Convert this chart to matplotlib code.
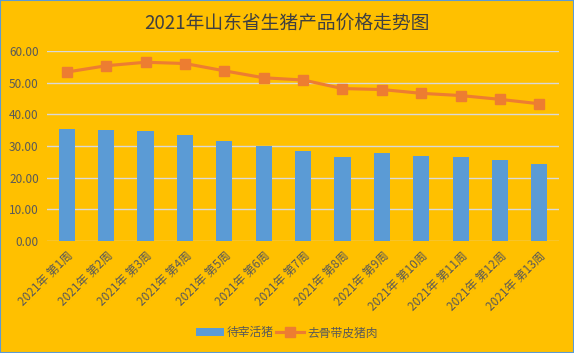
import numpy as np
import matplotlib
matplotlib.use('Agg')
from matplotlib import pyplot as plt
from matplotlib.patches import Rectangle

plt.rcParams['font.family'] = ['Noto Sans CJK SC', 'DejaVu Sans']

weeks = ['2021年 第%d周' % i for i in range(1, 14)]
live_pig = [35.4, 35.0, 34.7, 33.5, 31.6, 30.0, 28.4, 26.5, 27.8, 26.8, 26.5, 25.6, 24.3]
pork = [53.3, 55.3, 56.4, 56.0, 53.7, 51.5, 50.8, 48.1, 47.8, 46.6, 45.9, 44.7, 43.3]

bg = '#FFC000'
txt = '#595959'

fig = plt.figure(figsize=(5.74, 3.53), dpi=100, facecolor=bg)
ax = fig.add_axes([0.082, 0.317, 0.892, 0.539], facecolor=bg)

x = np.arange(len(weeks))
bars = ax.bar(x, live_pig, width=0.41, color='#5B9BD5', label='待宰活猪', zorder=2)
line, = ax.plot(x, pork, color='#ED7D31', lw=2.25, marker='s', markersize=7,
                label='去骨带皮猪肉', zorder=3)

ax.set_xlim(-0.5, len(weeks) - 0.5)
ax.set_ylim(0, 60)
ax.set_yticks(np.arange(0, 61, 10))
ax.set_yticklabels(['%.2f' % v for v in np.arange(0, 61, 10)])
ax.yaxis.grid(True, color='#D9D9D9', lw=1, zorder=0)
ax.set_axisbelow(True)
for s in ax.spines.values():
    s.set_visible(False)
ax.tick_params(axis='both', length=0, colors=txt, labelsize=8.5)
ax.tick_params(axis='y', pad=6)
ax.set_xticks(x)
ax.set_xticklabels(weeks, rotation=45, ha='right', va='top', rotation_mode='anchor')
ax.tick_params(axis='x', pad=6)

fig.text(0.5, 0.935, '2021年山东省生猪产品价格走势图', ha='center', va='center',
         fontsize=13.5, color='#404040')

fig.legend([bars, line], ['待宰活猪', '去骨带皮猪肉'], loc='center',
           bbox_to_anchor=(0.5, 0.057), ncol=2, frameon=False,
           fontsize=8.5, labelcolor=txt, handlelength=2.3, columnspacing=0.2,
           handletextpad=0.3)

fig.patches.append(Rectangle((0, 0), 1, 1, transform=fig.transFigure, fill=False,
                             edgecolor='#5B9BD5', lw=1.5))

fig.savefig('out.png', dpi=100, facecolor=bg)
